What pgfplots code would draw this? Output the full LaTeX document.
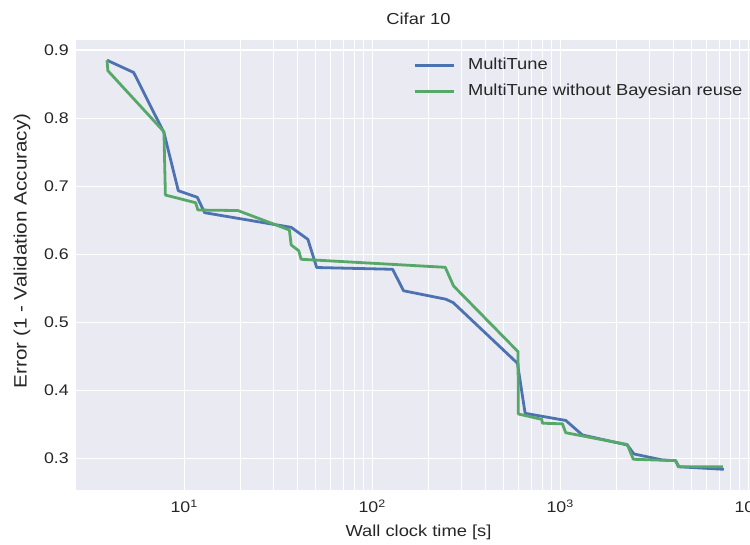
\documentclass[border=0pt]{standalone}
\usepackage{fontspec}
\setmainfont{Liberation Sans}[FakeStretch=1.15]
\usepackage{pgfplots}
\pgfplotsset{compat=1.18}
\definecolor{sbblue}{HTML}{4C72B0}
\definecolor{sbgreen}{HTML}{55A868}
\definecolor{sbbg}{HTML}{EAEAF2}
\definecolor{sbtext}{HTML}{262626}
\begin{document}
\begin{tikzpicture}
\begin{axis}[
  name=ax, at={(0bp,0bp)}, anchor=south west,
  scale only axis, width=685bp, height=450bp,
  xmode=log, xmin=2.66, xmax=11700,
  ymin=0.2539, ymax=0.9147,
  axis background/.style={fill=sbbg},
  axis line style={draw=none},
  major tick length=0pt, minor tick length=0pt,
  xmajorgrids=true, ymajorgrids=true, xminorgrids=true,
  major grid style={white, line width=1.2bp},
  minor grid style={white, line width=0.8bp},
  xtick={10,100,1000,10000},
  xticklabels={10\textsuperscript{1},10\textsuperscript{2},10\textsuperscript{3},10\textsuperscript{4}},
  ytick={0.3,0.4,0.5,0.6,0.7,0.8,0.9},
  yticklabel style={/pgf/number format/fixed, /pgf/number format/fixed zerofill, /pgf/number format/precision=1, /pgf/number format/assume math mode=true},
  tick label style={font=\fontsize{15.5}{18}\selectfont, text=sbtext},
  yticklabel style={inner sep=0pt, xshift=-7bp},
  xticklabel style={inner sep=0pt, yshift=-10bp},
  every axis title shift=0pt,
  title={Cifar 10},
  title style={at={(axis description cs:0.5,1)}, anchor=base, yshift=15bp, font=\fontsize{16}{19}\selectfont, text=sbtext},
  xlabel={Wall clock time [s]},
  xlabel style={at={(axis description cs:0.5,0)}, anchor=center, yshift=-42bp, font=\fontsize{16}{19}\selectfont, text=sbtext},
  ylabel={Error (1 - Validation Accuracy)},
  ylabel style={at={(axis description cs:0,0.5)}, anchor=center, yshift=54bp, xshift=14bp, font=\fontsize{18}{21}\selectfont, text=sbtext},
  legend cell align=left,
  legend style={draw=none, fill=none, at={(axis description cs:0.492,0.9616)}, anchor=north west, inner sep=0pt, row sep=10bp, column sep=13bp, font=\fontsize{16}{19}\selectfont, text=sbtext, nodes={inner sep=0pt, text height=12bp, text depth=4bp}},
  legend image code/.code={\draw[#1] (0bp,0bp) -- (39bp,0bp);},
  every axis plot/.append style={line width=2.8bp, line join=round},
]
\addplot[sbblue] coordinates {
(3.89,0.885) (5.39,0.867) (7.81,0.7786) (9.31,0.6934) (11.75,0.6837) (12.85,0.6611)
(37.1,0.6396) (45.5,0.622) (50.7,0.5806) (128.5,0.578) (146.9,0.5465) (246.8,0.534)
(270,0.529) (592.6,0.440) (651,0.3665) (1071,0.356) (1312,0.3347) (2275,0.3200)
(2468,0.3068) (3490,0.298) (4111,0.297) (4280,0.288) (7417,0.2843)
};
\addlegendentry{MultiTune}
\addplot[sbgreen] coordinates {
(3.89,0.885) (3.93,0.8696) (7.81,0.780) (7.95,0.687) (11.51,0.6758) (11.84,0.665)
(19.3,0.6643) (36.3,0.6357) (37.1,0.6137) (40.7,0.6052) (41.9,0.5927) (244.7,0.5809)
(271,0.5535) (597,0.457) (599,0.3655) (798,0.3577) (805,0.352) (1028,0.351)
(1071,0.338) (2275,0.3207) (2449,0.299) (4111,0.297) (4247,0.288) (7328,0.288)
};
\addlegendentry{MultiTune without Bayesian reuse}
\end{axis}
\pgfresetboundingbox
\path[use as bounding box] (-76bp,-55bp) rectangle (674bp,490bp);
\end{tikzpicture}
\end{document}
